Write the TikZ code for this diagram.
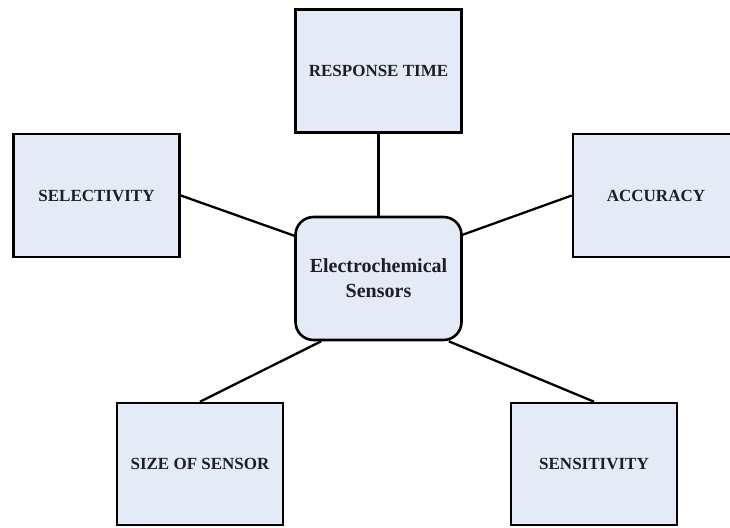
\documentclass[tikz,border=0pt]{standalone}
\usepackage{fontspec}
\setmainfont{Liberation Serif}
\definecolor{boxfill}{RGB}{228,234,246}
\definecolor{txt}{RGB}{30,30,36}
\begin{document}
\begin{tikzpicture}[x=1pt,y=-1pt,
  featbox/.style={draw=black,line width=2.6pt,fill=boxfill,rectangle,minimum width=166pt,minimum height=123pt,inner sep=0pt,text=txt,font=\fontsize{17}{20}\selectfont\bfseries},
  hubbox/.style={featbox,rounded corners=18pt,align=center,font=\fontsize{20}{25}\selectfont\bfseries},
  link/.style={draw=black,line width=2.3pt}]
\useasboundingbox (0,0) rectangle (730,527);
\clip (0,0) rectangle (730,527);
\fill[white] (0,0) rectangle (730,527);
\node[featbox] (resp) at (378.5,71) {RESPONSE TIME};
\node[featbox] (sel) at (96.5,195.5) {SELECTIVITY};
\node[featbox] (acc) at (656,195.5) {ACCURACY};
\node[hubbox] (hub) at (378.5,278.5) {Electrochemical\\Sensors};
\node[featbox,minimum height=122pt] (size) at (200,464) {SIZE OF SENSOR};
\node[featbox,minimum height=122pt] (sens) at (594,464) {SENSITIVITY};
\draw[link] (resp.south) -- (hub.north);
\draw[link] (sel.east) -- ([yshift=-20pt]hub.north west);
\draw[link] (acc.west) -- ([yshift=-19pt]hub.north east);
\draw[link] (size.north) -- ([xshift=27pt]hub.south west);
\draw[link] (sens.north) -- ([xshift=-14pt]hub.south east);
\end{tikzpicture}
\end{document}
